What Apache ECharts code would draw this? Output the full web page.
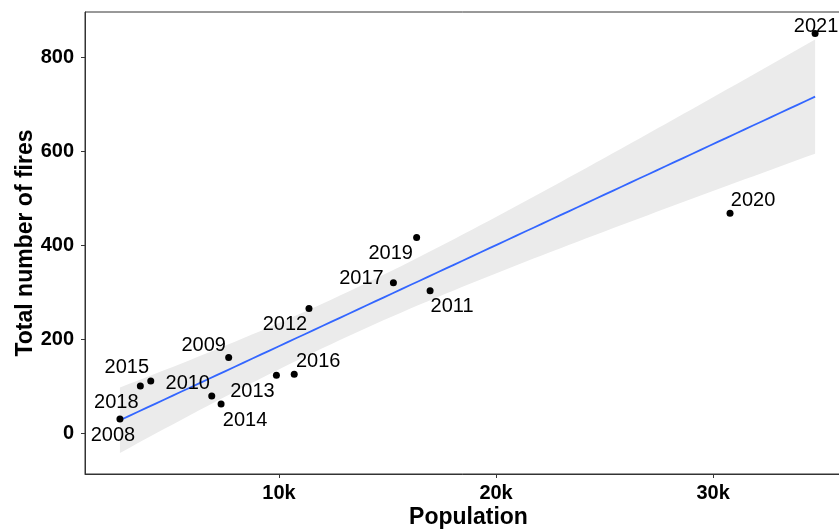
<!DOCTYPE html>
<html>
<head>
<meta charset="utf-8">
<script src="https://cdn.jsdelivr.net/npm/echarts@6/dist/echarts.min.js"></script>
<style>
  html, body { margin: 0; padding: 0; background: #ffffff; }
  #chart { width: 839px; height: 529px; }
</style>
</head>
<body>
<div id="chart"></div>
<script>
// Yearly population vs. total number of fires
const years = ['2008', '2009', '2010', '2011', '2012', '2013', '2014',
               '2015', '2016', '2017', '2018', '2019', '2020', '2021'];
const population = [2670, 7680, 6900, 16960, 11380, 9880, 7330,
                    4090, 10700, 15270, 3610, 16340, 30780, 34700];
const fires = [30, 161, 79, 303, 265, 123, 62,
               111, 125, 320, 100, 416, 468, 850];
const xTickValues = [10000, 20000, 30000];
const yTickValues = [0, 200, 400, 600, 800];

// Label placement around each point (pixels, relative to the point)
const labelNudge = {
  '2008': [-7, 16],  '2009': [-25, -12], '2010': [-24, -12], '2011': [22, 16],
  '2012': [-24, 16], '2013': [-24, 16],  '2014': [24, 17],   '2015': [-24, -13],
  '2016': [24, -13], '2017': [-32, -4],  '2018': [-24, 16],  '2019': [-26, 16],
  '2020': [23, -13], '2021': [1, -7]
};

// Ordinary least squares fit with a 95% confidence band
const n = population.length;
const mx = population.reduce((a, b) => a + b, 0) / n;
const my = fires.reduce((a, b) => a + b, 0) / n;
let sxx = 0, sxy = 0;
for (let i = 0; i < n; i++) {
  sxx += (population[i] - mx) ** 2;
  sxy += (population[i] - mx) * (fires[i] - my);
}
const slope = sxy / sxx;
const intercept = my - slope * mx;
let sse = 0;
for (let i = 0; i < n; i++) {
  sse += (fires[i] - (intercept + slope * population[i])) ** 2;
}
const sigma = Math.sqrt(sse / (n - 2));
const tCrit = 2.1788; // Student t, 97.5% quantile, df = 12

const xLo = Math.min(...population), xHi = Math.max(...population);
const fitLine = [], upper = [], lower = [];
const steps = 80;
for (let k = 0; k < steps; k++) {
  const x = xLo + (xHi - xLo) * k / (steps - 1);
  const yhat = intercept + slope * x;
  const se = sigma * Math.sqrt(1 / n + (x - mx) ** 2 / sxx);
  fitLine.push([x, yhat]);
  upper.push([x, yhat + tCrit * se]);
  lower.push([x, yhat - tCrit * se]);
}
const bandPolygon = upper.concat(lower.slice().reverse());

const font = 'Liberation Sans, Arial, sans-serif';

const pointData = years.map((yr, i) => ({
  name: yr,
  value: [population[i], fires[i]],
  label: { offset: labelNudge[yr] }
}));

const chart = echarts.init(document.getElementById('chart'), null, { renderer: 'canvas' });
chart.setOption({
  animation: false,
  backgroundColor: '#ffffff',
  grid: {
    left: 85, top: 12, width: 767, height: 462,
    outerBoundsMode: 'none',
    containLabel: false,
    show: true, borderColor: '#333333', borderWidth: 1, backgroundColor: 'transparent'
  },
  xAxis: {
    type: 'value',
    min: 1060, max: 36400,
    name: 'Population',
    nameLocation: 'middle',
    nameGap: 32,
    nameMoveOverlap: false,
    nameTextStyle: { fontFamily: font, fontWeight: 'bold', fontSize: 23, color: '#000000' },
    axisLine: { show: true, onZero: false, lineStyle: { color: '#333333', width: 1 } },
    axisTick: { show: true, length: 4, customValues: xTickValues, lineStyle: { color: '#333333' } },
    axisLabel: {
      customValues: xTickValues,
      formatter: v => (v / 1000) + 'k',
      fontFamily: font, fontWeight: 'bold', fontSize: 20, color: '#000000', margin: 9
    },
    splitLine: { show: false }
  },
  yAxis: {
    type: 'value',
    min: -87, max: 896,
    name: 'Total number of fires',
    nameLocation: 'middle',
    nameGap: 48,
    nameMoveOverlap: false,
    nameTextStyle: { fontFamily: font, fontWeight: 'bold', fontSize: 23, color: '#000000' },
    axisLine: { show: true, onZero: false, lineStyle: { color: '#333333', width: 1 } },
    axisTick: { show: true, length: 4, customValues: yTickValues, lineStyle: { color: '#333333' } },
    axisLabel: {
      customValues: yTickValues,
      fontFamily: font, fontWeight: 'bold', fontSize: 20, color: '#000000', margin: 11
    },
    splitLine: { show: false }
  },
  series: [
    {
      type: 'custom',
      name: 'band',
      silent: true,
      z: 1,
      data: [[xLo, 0]],
      renderItem: (params, api) => ({
        type: 'polygon',
        shape: { points: bandPolygon.map(p => api.coord(p)) },
        style: { fill: '#EBEBEB' }
      })
    },
    {
      type: 'line',
      name: 'fit',
      data: fitLine,
      showSymbol: false,
      silent: true,
      z: 2,
      lineStyle: { color: '#3366FF', width: 1.8 }
    },
    {
      type: 'scatter',
      name: 'years',
      data: pointData,
      symbol: 'circle',
      symbolSize: 7,
      z: 3,
      itemStyle: { color: '#000000', opacity: 1 },
      label: {
        show: true,
        formatter: '{b}',
        position: 'inside',
        align: 'center',
        verticalAlign: 'middle',
        fontFamily: font,
        fontSize: 20,
        color: '#000000',
        opacity: 1
      }
    }
  ]
});
</script>
</body>
</html>
